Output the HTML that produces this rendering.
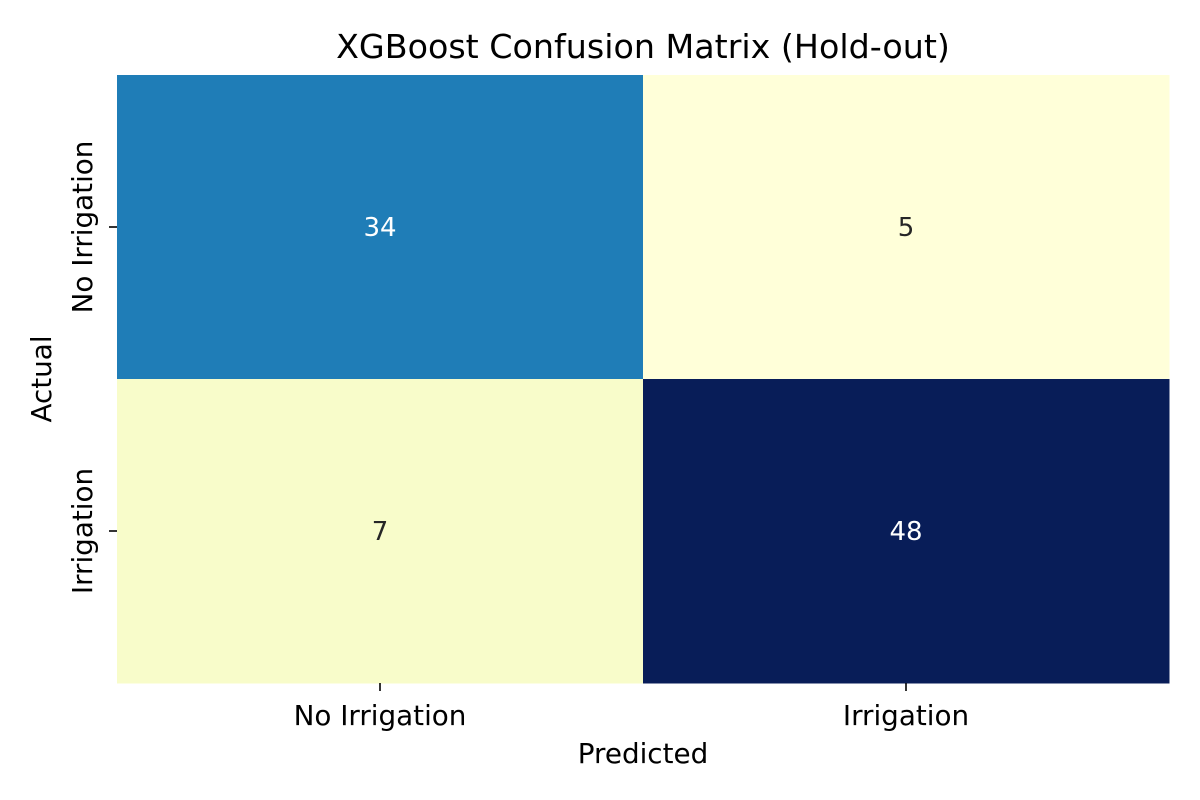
<!DOCTYPE html>
<html><head><meta charset="utf-8"><style>
body{margin:0;background:#fff;}
svg{display:block;font-family:"DejaVu Sans","Liberation Sans",sans-serif;}
</style></head><body>
<svg id="chart" width="1200" height="800" viewBox="0 0 1200 800">
<text x="643" y="58" text-anchor="middle" font-size="33.3" fill="#000">XGBoost Confusion Matrix (Hold-out)</text>
<g id="cells"></g>
<text x="643" y="763" text-anchor="middle" font-size="27.8" fill="#000">Predicted</text>
<text transform="translate(51,379) rotate(-90)" text-anchor="middle" font-size="27.8" fill="#000">Actual</text>
</svg>
<script>
const categories = ["No Irrigation","Irrigation"];
const values = [[34,5],[7,48]];
const vmin = 5, vmax = 48;
const stops = ["#ffffd9","#edf8b1","#c7e9b4","#7fcdbb","#41b6c4","#1d91c0","#225ea8","#253494","#081d58"];
function hex(h){return [1,3,5].map(i=>parseInt(h.substr(i,2),16));}
function color(v){
  let t=Math.max(0,Math.min(1,(v-vmin)/(vmax-vmin)))*(stops.length-1);
  let i=Math.min(Math.floor(t),stops.length-2), f=t-i;
  let a=hex(stops[i]), b=hex(stops[i+1]);
  const m=a.map((x,k)=>x+(b[k]-x)*f);
  return {c:`rgb(${m.map(Math.round).join(",")})`, lum:m[0]*0.3+m[1]*0.59+m[2]*0.11};
}
const X0=117,X1=1169,Y0=75,Y1=683;
const n=categories.length;
const cw=(X1-X0)/n, ch=(Y1-Y0)/n;
const xs=j=>X0+j*cw, ys=i=>Y0+i*ch;
const NS="http://www.w3.org/2000/svg";
const g=document.getElementById("cells");
function mk(tag,attrs){const e=document.createElementNS(NS,tag);for(const k in attrs)e.setAttribute(k,attrs[k]);return e;}
values.forEach((row,i)=>row.forEach((v,j)=>{
  const col=color(v);
  const r=mk("rect",{x:xs(j),y:ys(i),width:cw+0.5,height:ch+0.5,fill:col.c});
  
  
  g.appendChild(r);
  const t=mk("text",{x:xs(j)+cw/2,y:ys(i)+ch/2+9,"text-anchor":"middle","font-size":"26",fill:col.lum<128?"#ffffff":"#262626"});
  t.textContent=v;
  
  
  g.appendChild(t);
}));
categories.forEach((c,k)=>{
  const cx=xs(k)+cw/2;
  const tl=mk("line",{x1:cx,x2:cx,y1:Y1,y2:Y1+8,stroke:"#000","stroke-width":1.6});
  
  
  g.appendChild(tl);
  const tx=mk("text",{x:cx,y:Y1+42,"text-anchor":"middle","font-size":"27.8",fill:"#000"});
  tx.textContent=c;
  
  
  g.appendChild(tx);
  const cy=ys(k)+ch/2;
  const yl=mk("line",{x1:X0-8,x2:X0,y1:cy,y2:cy,stroke:"#000","stroke-width":1.6});
  
  
  g.appendChild(yl);
  const ty=mk("text",{transform:`translate(${X0-25},${cy}) rotate(-90)`,"text-anchor":"middle","font-size":"27.8",fill:"#000"});
  ty.textContent=c;
  
  
  g.appendChild(ty);
});
</script>
</body></html>
